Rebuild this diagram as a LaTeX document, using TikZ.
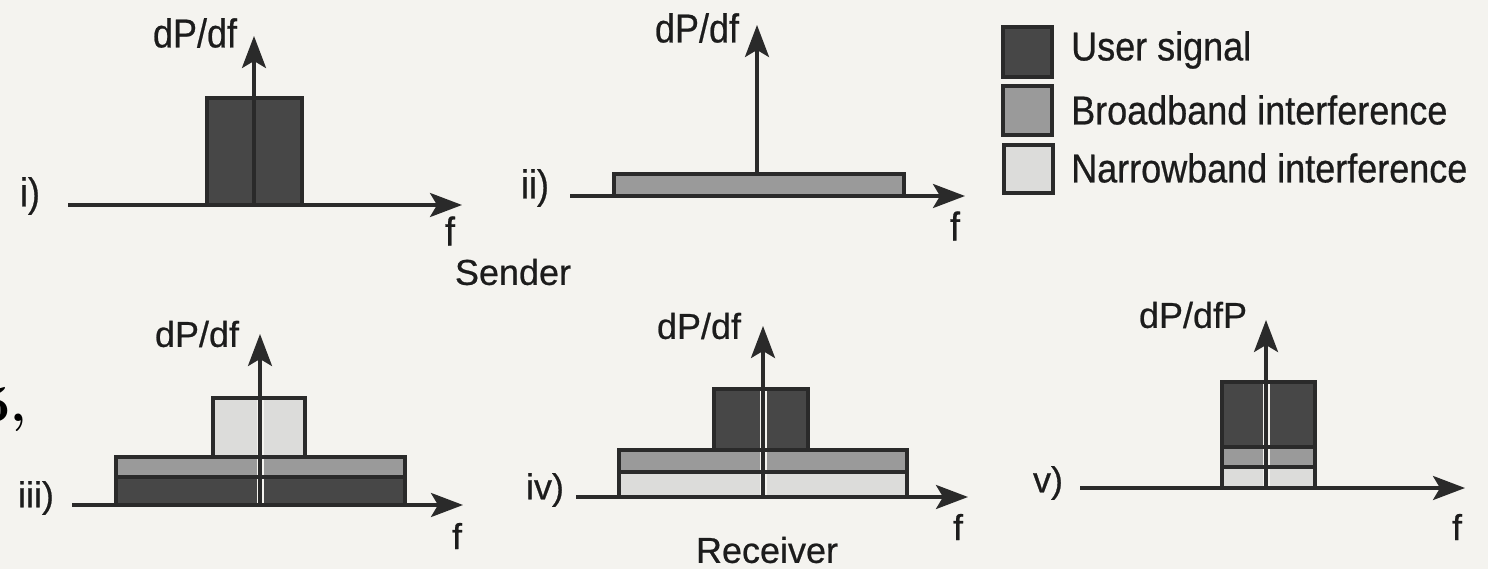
\documentclass[tikz,border=0pt]{standalone}
\usepackage{fontspec}
\setmainfont{Liberation Sans}[FakeBold=0.6]
\newfontfamily\serifbold{Latin Modern Roman}
\usetikzlibrary{arrows.meta}

\definecolor{paper}{HTML}{F4F3EF}
\definecolor{ink}{HTML}{2A2A2A}
\definecolor{textink}{HTML}{1C1C1C}
\definecolor{usercol}{HTML}{474747}
\definecolor{broadcol}{HTML}{9A9A9A}
\definecolor{narrowcol}{HTML}{DCDCDA}

\tikzset{
  axisline/.style={line width=3.4pt, draw=ink,
    -{Stealth[length=32pt,width=24pt,inset=7pt]}},
  band/.style={draw=ink, line width=3.8pt, line join=miter},
  user/.style={band, fill=usercol},
  broad/.style={band, fill=broadcol},
  narrow/.style={band, fill=narrowcol},
  outline/.style={draw=ink, line width=3.8pt},
  gap/.style={draw=paper, line width=7pt},
  lbl/.style={inner sep=0pt, text=textink, font=\fontsize{36}{40}\selectfont},
  legendtext/.style={lbl, anchor=west},
}
\newcommand{\tall}[1]{\scalebox{1}[1.12]{#1}}

\begin{document}
\begin{tikzpicture}[x=1pt, y=-1pt]
  \fill[paper] (0,0) rectangle (1488,569);
  \useasboundingbox (0,0) rectangle (1488,569);

  % running text fragment at the left edge
  \node[inner sep=0pt, anchor=base east, text=black,
        font=\serifbold\bfseries\fontsize{52}{58}\selectfont] (frag) at (27,421) {5,};

  % ---------- i) user signal at the sender
  \coordinate (i0) at (68,205);
  \coordinate (i1) at (462,205);
  \coordinate (ib) at (254,205);
  \coordinate (it) at (254,36);
  \draw[user] (207,98) rectangle (302,205);
  \draw[axisline] (i0) -- (i1);
  \draw[axisline] (ib) -- (it);
  \node[lbl] (iy) at (195,33) {\tall{dP/df}};
  \node[lbl] (in) at (30,196) {\tall{i)}};
  \node[lbl] (if) at (450,231) {\tall{f}};

  % ---------- ii) spread user signal
  \coordinate (ii0) at (570,196);
  \coordinate (ii1) at (965,196);
  \coordinate (iib) at (757,174);
  \coordinate (iit) at (757,25);
  \draw[broad] (614,174) rectangle (904,196);
  \draw[axisline] (ii0) -- (ii1);
  \draw[axisline] (iib) -- (iit);
  \node[lbl] (iiy) at (697,28) {\tall{dP/df}};
  \node[lbl] (iin) at (535,188) {\tall{ii)}};
  \node[lbl] (iif) at (955,226) {\tall{f}};

  % ---------- legend
  \draw[user]   (1003,27)  rectangle (1052,77);
  \draw[broad]  (1003,86)  rectangle (1052,135);
  \draw[narrow] (1004,145) rectangle (1053,193);
  \node[legendtext] (lu) at (1071,50)  {\tall{User signal}};
  \node[legendtext] (lb) at (1071,110) {\tall{Broadband interference}};
  \node[legendtext] (ln) at (1071,168) {\tall{Narrowband interference}};

  \node[lbl] (snd) at (513,272) {Sender};

  % ---------- iii) interference added on the channel
  \coordinate (iii0) at (72,505);
  \coordinate (iii1) at (463,505);
  \coordinate (iiib) at (260,505);
  \coordinate (iiit) at (260,334);
  \draw[user]   (116,477) rectangle (405,505);
  \draw[broad]  (116,457) rectangle (405,477);
  \draw[narrow] (213,398) rectangle (305,457);
  \draw[gap] (260,400) -- (260,503);
  \draw[outline] (116,457) rectangle (405,505) (116,477) -- (405,477)
                 (213,398) rectangle (305,457);
  \draw[axisline] (iii0) -- (iii1);
  \draw[axisline] (iiib) -- (iiit);
  \node[lbl] (iiiy) at (197,334) {dP/df};
  \node[lbl] (iiin) at (36,498) {iii)};
  \node[lbl] (iiif) at (457,536) {f};

  % ---------- iv) after despreading at the receiver
  \coordinate (iv0) at (576,497);
  \coordinate (iv1) at (968,497);
  \coordinate (ivb) at (763,497);
  \coordinate (ivt) at (763,326);
  \draw[narrow] (619,472) rectangle (907,497);
  \draw[broad]  (619,450) rectangle (907,472);
  \draw[user]   (714,389) rectangle (808,450);
  \draw[gap] (763,391) -- (763,495);
  \draw[outline] (619,450) rectangle (907,497) (619,472) -- (907,472)
                 (714,389) rectangle (808,450);
  \draw[axisline] (iv0) -- (iv1);
  \draw[axisline] (ivb) -- (ivt);
  \node[lbl] (ivy) at (699,326) {dP/df};
  \node[lbl] (ivn) at (545,490) {iv)};
  \node[lbl] (ivf) at (958,527) {f};
  \node[lbl] (rcv) at (767,550) {Receiver};

  % ---------- v) after band-pass filtering
  \coordinate (v0) at (1080,488);
  \coordinate (v1) at (1465,488);
  \coordinate (vb) at (1266,488);
  \coordinate (vt) at (1266,320);
  \draw[user]   (1222,382) rectangle (1315,447);
  \draw[broad]  (1222,447) rectangle (1315,467);
  \draw[narrow] (1222,467) rectangle (1315,488);
  \draw[gap] (1266,384) -- (1266,486);
  \draw[outline] (1222,382) rectangle (1315,488) (1222,447) -- (1315,447)
                 (1222,467) -- (1315,467);
  \draw[axisline] (v0) -- (v1);
  \draw[axisline] (vb) -- (vt);
  \node[lbl] (vy) at (1193,315) {dP/dfP};
  \node[lbl] (vn) at (1048,483) {v)};
  \node[lbl] (vf) at (1457,527) {f};
\end{tikzpicture}
\end{document}
